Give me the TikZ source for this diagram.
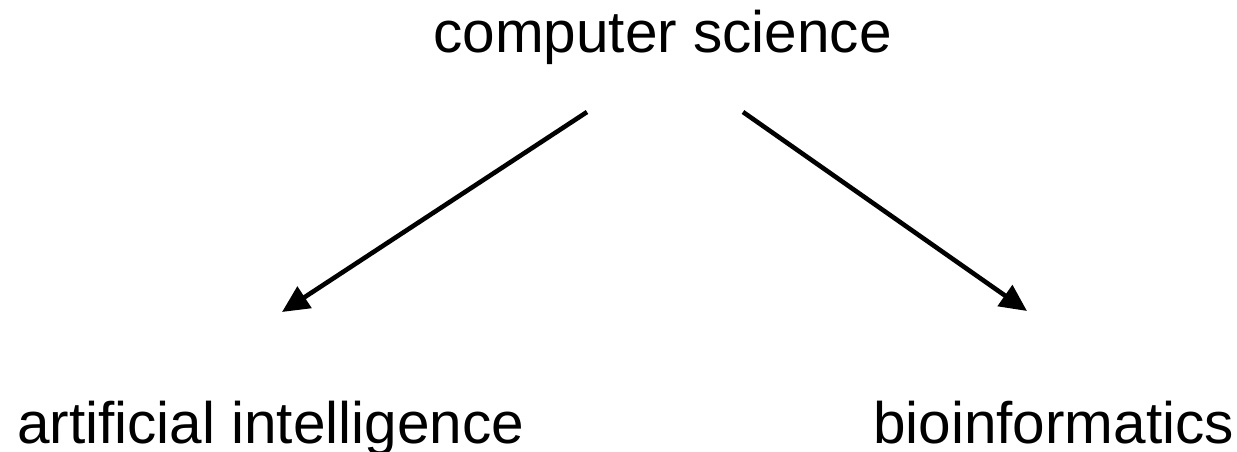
\documentclass[tikz,border=0pt]{standalone}
\usepackage{fontspec}
\setmainfont{Liberation Sans}[Ligatures=NoCommon]
\usetikzlibrary{arrows.meta}
\begin{document}
\begin{tikzpicture}[x=1pt,y=-1pt,
  label/.style={inner sep=0pt,outer sep=0pt,font=\fontsize{58.5}{70}\selectfont},
  link/.style={line width=4.6pt,-{Triangle[length=27pt,width=25pt]}}]
  \useasboundingbox (0,0) rectangle (1237,452);
  \node[label,anchor=base] (cs) at (662.5,53) {computer science};
  \node[label,anchor=base west] (ai) at (17,443) {artificial intelligence};
  \node[label,anchor=base west] (bio) at (873,443) {bioinformatics};
  \coordinate (csL) at (587,112);
  \coordinate (csR) at (743,112);
  \coordinate (aiT) at (282,312);
  \coordinate (bioT) at (1027,311);
  \draw[link] (csL) -- (aiT);
  \draw[link] (csR) -- (bioT);
\end{tikzpicture}
\end{document}
